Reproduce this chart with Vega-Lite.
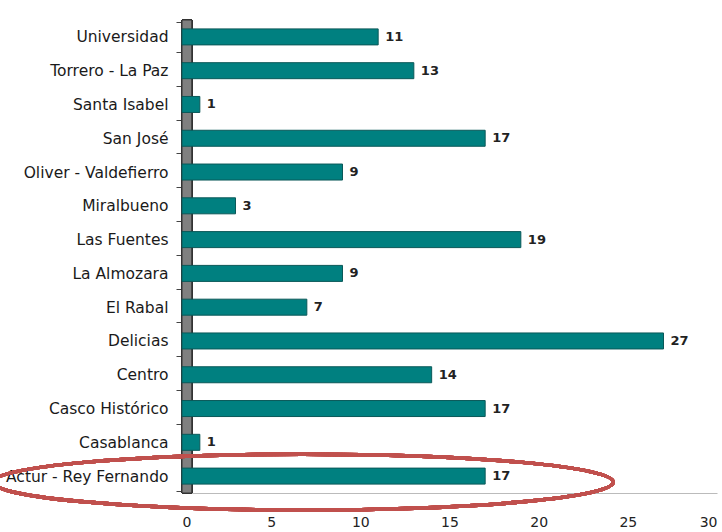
{
  "$schema": "https://vega.github.io/schema/vega-lite/v6.json",
  "autosize": "none",
  "width": 535,
  "height": 473,
  "padding": {"left": 182, "top": 20, "right": 5, "bottom": 39},
  "background": "white",
  "config": {"view": {"stroke": null}, "font": "DejaVu Sans"},
  "data": {"values": [
    {"barrio": "Universidad", "n": 11},
    {"barrio": "Torrero - La Paz", "n": 13},
    {"barrio": "Santa Isabel", "n": 1},
    {"barrio": "San José", "n": 17},
    {"barrio": "Oliver - Valdefierro", "n": 9},
    {"barrio": "Miralbueno", "n": 3},
    {"barrio": "Las Fuentes", "n": 19},
    {"barrio": "La Almozara", "n": 9},
    {"barrio": "El Rabal", "n": 7},
    {"barrio": "Delicias", "n": 27},
    {"barrio": "Centro", "n": 14},
    {"barrio": "Casco Histórico", "n": 17},
    {"barrio": "Casablanca", "n": 1},
    {"barrio": "Actur - Rey Fernando", "n": 17}
  ]},
  "encoding": {
    "y": {"field": "barrio", "type": "nominal", "sort": null, "title": null,
      "axis": {"labelFontSize": 15.5, "labelColor": "#1a1a1a", "labelPadding": 8, "tickSize": 6, "tickBand": "extent", "tickColor": "#444", "domain": false}}
  },
  "layer": [
    {
      "mark": {"type": "rect", "fill": "#808080", "stroke": "#333", "strokeWidth": 1},
      "encoding": {"x": {"datum": 0}, "x2": {"datum": 0.55}, "y": null}
    },
    {
      "mark": {"type": "bar", "color": "#008080", "stroke": "#0a5858", "strokeWidth": 1, "size": 16},
      "encoding": {
        "x": {"field": "n", "type": "quantitative", "scale": {"domain": [0, 30]}, "title": null,
          "axis": {"values": [0, 5, 10, 15, 20, 25, 30], "labelFontSize": 14, "labelColor": "#222", "labelPadding": 22, "ticks": false, "domainColor": "#bbb", "gridColor": "#d6d6d6", "gridWidth": 1.5}}
      }
    },
    {
      "mark": {"type": "text", "align": "left", "dx": 7, "fontSize": 13, "fontWeight": "bold", "color": "#222"},
      "encoding": {
        "x": {"field": "n", "type": "quantitative"},
        "text": {"field": "n", "type": "quantitative"}
      }
    },
    {
      "mark": {"type": "point", "shape": "M -1 0 A 1 0.09 0 1 0 1 0 A 1 0.09 0 1 0 -1 0 Z", "size": 384400, "filled": false, "stroke": "#c0504d", "strokeWidth": 3.5, "opacity": 1, "yOffset": 6},
      "encoding": {"x": {"datum": 6.8}, "y": {"datum": "Actur - Rey Fernando"}}
    }
  ]
}
